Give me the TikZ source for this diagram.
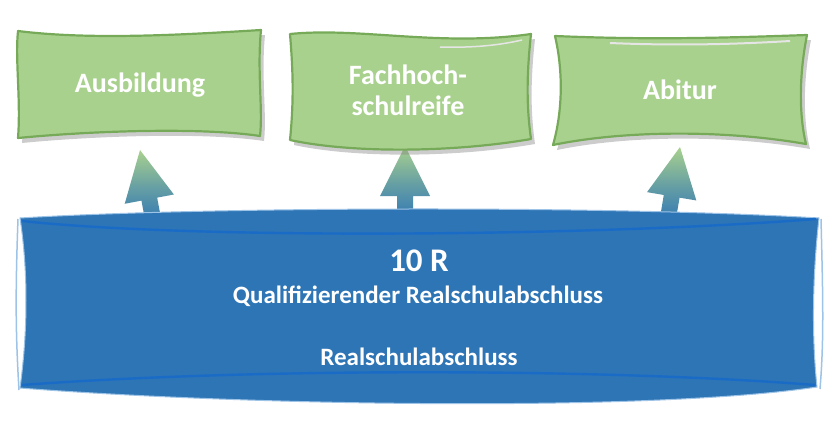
\documentclass[tikz,border=0pt]{standalone}
\usepackage{fontspec}
\setmainfont{Carlito}
\usepackage{tikz}
\usetikzlibrary{calc,shadows}
\definecolor{rsblue}{HTML}{2E75B6}
\definecolor{rsdeep}{HTML}{1A6BC6}
\definecolor{rslight}{HTML}{9DC3E6}
\definecolor{gfill}{HTML}{A9D18E}
\definecolor{gedge}{HTML}{76AA58}

% block arrow from foot (#1) up to tip (#2)
\newcommand{\blockArrow}[2]{%
  \coordinate (hd) at ($(#2)!50pt!(#1)$);
  \path[arrowShade]
    ($(#1)!8pt!90:(#2)$) -- ($(hd)!8pt!90:(#2)$) -- ($(hd)!25pt!90:(#2)$) -- (#2)
    -- ($(hd)!25pt!-90:(#2)$) -- ($(hd)!8pt!-90:(#2)$) -- ($(#1)!8pt!-90:(#2)$) -- cycle;
}

\begin{document}
\begin{tikzpicture}[x=1pt,y=-1pt,
  greenBox/.style ={fill=gfill, draw=gedge, line width=2.2pt, line join=round,
                    drop shadow={shadow xshift=4pt, shadow yshift=-5pt, opacity=0.4}},
  blueBox/.style  ={fill=rsblue, draw=rslight, line width=1pt},
  innerWave/.style={draw=rsdeep, line width=2.4pt},
  arrowShade/.style={top color=gfill, bottom color=rsblue, middle color=rsblue!55!gfill},
  gLabel/.style   ={font=\fontsize{28}{31}\selectfont\bfseries, text=white, align=center},
  bLabel/.style   ={font=\fontsize{25}{28}\selectfont\bfseries, text=white},
]
\useasboundingbox (0,0) rectangle (836,432);

% arrow ends: foot inside the blue box, tip below each green box
\foreach \nm/\fx/\fy/\tx/\ty in {A/154/224/140/150, F/405/222/405/146, B/667/224/680/147} {
  \coordinate (foot\nm) at (\fx,\fy);
  \coordinate (tip\nm)  at (\tx,\ty);
}
\blockArrow{footA}{tipA}
\blockArrow{footF}{tipF}
\blockArrow{footB}{tipB}

% base block
\path[blueBox] (20,218) .. controls (200,207) and (600,205) .. (819,218)
  .. controls (812,280) and (812,340) .. (817,387)
  .. controls (650,412) and (250,406) .. (20,388)
  .. controls (28,330) and (28,270) .. (20,218) -- cycle;
\draw[rslight, line width=1.5pt] (18,219) .. controls (15,300) and (16,340) .. (19,390);
\draw[rslight, line width=1.5pt] (821,219) .. controls (823,300) and (824,340) .. (820,389);
\path[innerWave] (22,221) .. controls (200,240) and (600,236) .. (816,219);
\path[innerWave] (22,385) .. controls (250,368) and (600,368) .. (815,385);

% three targets
\path[greenBox] (18,31) .. controls (90,40) and (180,35) .. (261,30)
  .. controls (257,70) and (263,110) .. (260,136)
  .. controls (200,127) and (90,131) .. (18,138)
  .. controls (21,100) and (15,60) .. (18,31) -- cycle;
\path[greenBox] (290,34) .. controls (360,27) and (440,47) .. (531,34)
  .. controls (526,80) and (527,110) .. (531,139)
  .. controls (450,153) and (350,153) .. (290,140)
  .. controls (294,100) and (293,70) .. (290,34) -- cycle;
\path[greenBox] (555,36) .. controls (650,40) and (720,38) .. (807,35)
  .. controls (798,80) and (800,120) .. (806,144)
  .. controls (720,129) and (620,131) .. (553,145)
  .. controls (563,110) and (563,70) .. (555,36) -- cycle;
\draw[white!80!gray, line width=2pt] (610,43) .. controls (680,46) and (740,44) .. (790,41);
\draw[white!80!gray, line width=1.5pt] (440,47) .. controls (475,48) and (500,45) .. (522,40);

% labels
\node[gLabel] (ausb) at (140,85) {Ausbildung};
\node[gLabel] (fhr)  at (408,90) {Fachhoch-\\schulreife};
\node[gLabel] (abi)  at (680,90) {Abitur};
\node[font=\fontsize{33}{36}\selectfont\bfseries, text=white] (zehn) at (419,261) {10 R};
\node[bLabel] (qrs) at (418,296) {Qualifizierender Realschulabschluss};
\node[bLabel] (rs)  at (419,357) {Realschulabschluss};
\end{tikzpicture}
\end{document}
